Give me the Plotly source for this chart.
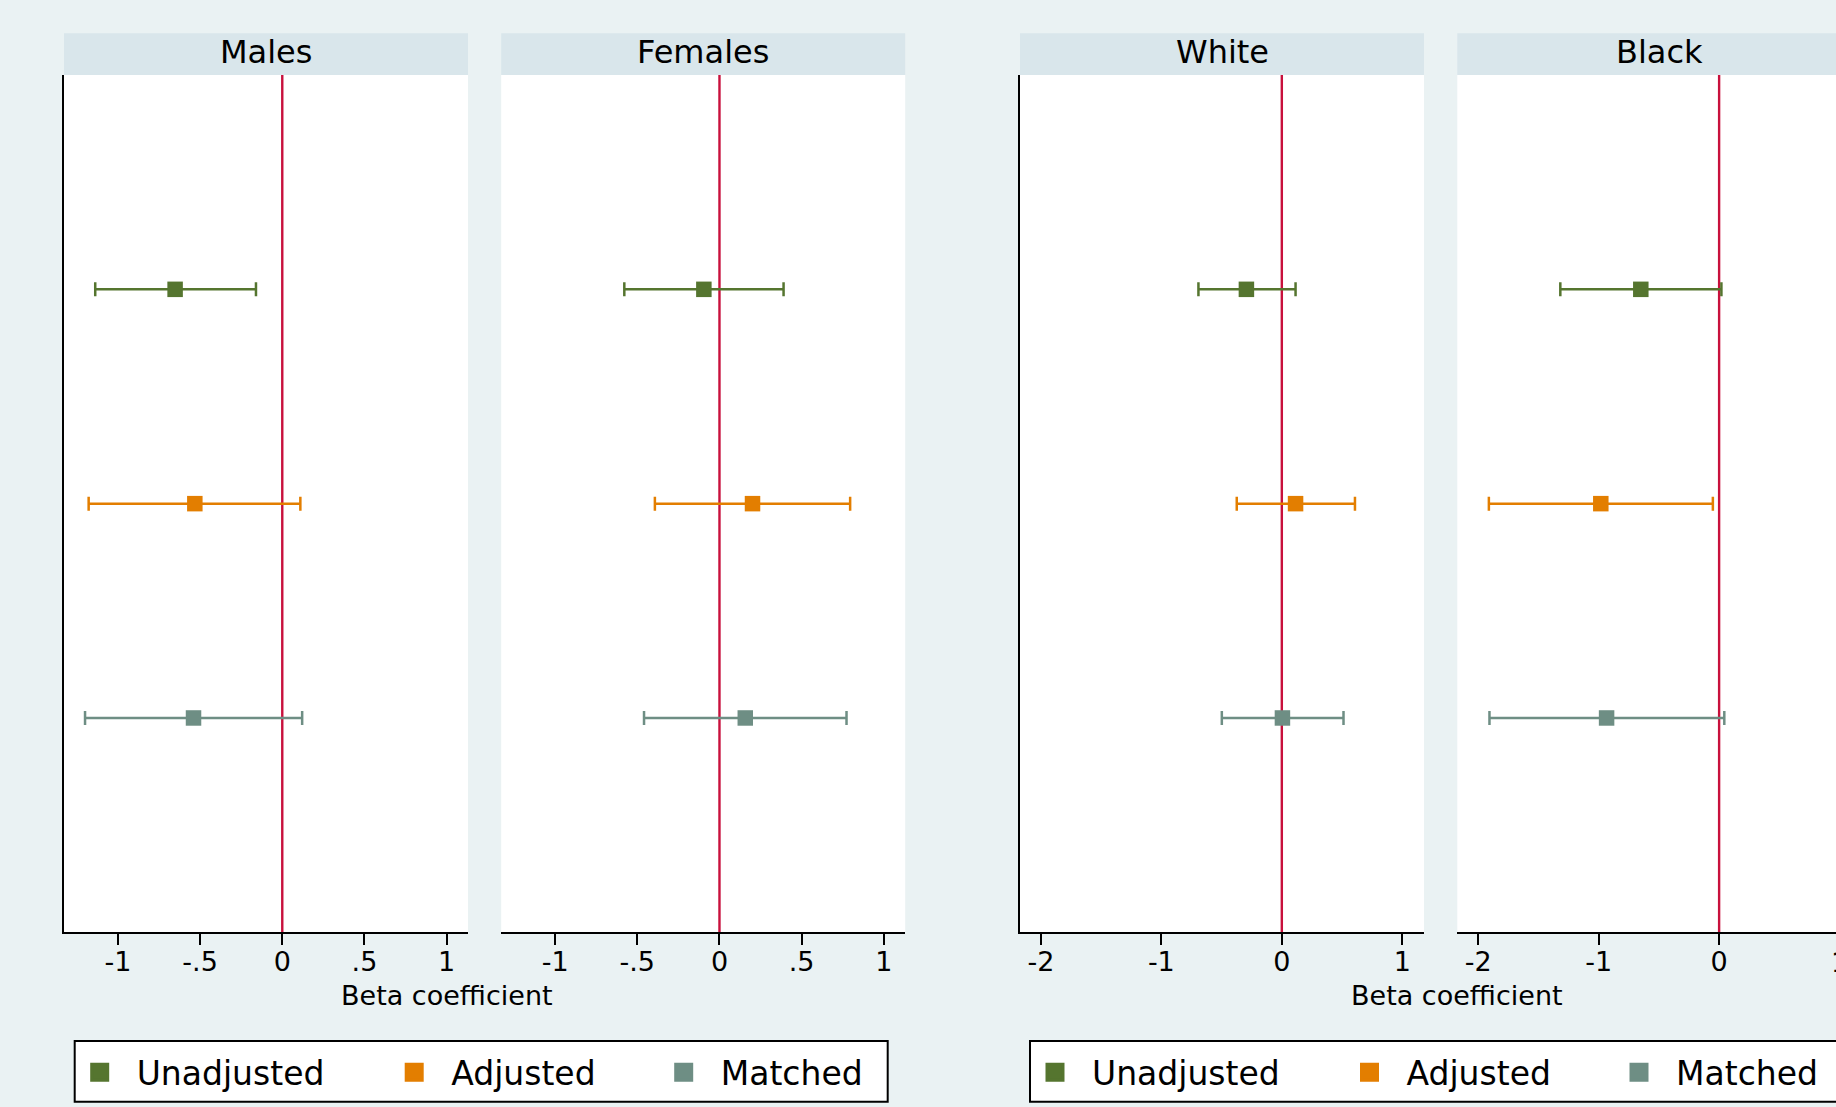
import plotly.graph_objects as go

# ---------------- data ----------------
categories = ["Unadjusted", "Adjusted", "Matched"]
panels = ["Males", "Females", "White", "Black"]

males_est = [-0.652, -0.532, -0.540]
males_lo = [-1.138, -1.178, -1.200]
males_hi = [-0.160, 0.110, 0.121]

females_est = [-0.095, 0.201, 0.157]
females_lo = [-0.579, -0.393, -0.459]
females_hi = [0.390, 0.795, 0.773]

white_est = [-0.294, 0.114, 0.005]
white_lo = [-0.692, -0.374, -0.498]
white_hi = [0.114, 0.607, 0.512]

black_est = [-0.650, -0.982, -0.934]
black_lo = [-1.318, -1.911, -1.906]
black_hi = [0.019, -0.052, 0.043]

sex_tickvals = [-1, -0.5, 0, 0.5, 1]
sex_ticktext = ["-1", "-.5", "0", ".5", "1"]
race_tickvals = [-2, -1, 0, 1]
race_ticktext = ["-2", "-1", "0", "1"]

axis_title = "Beta coefficient"

# ---------------- styling / layout ----------------
W, H = 1836, 1107
FONT = "DejaVu Sans"
colors = ["#55752F", "#E37E00", "#6E8E84"]
bg = "#EAF2F3"
strip_col = "#D9E6EB"
ref_col = "#C8103C"

panel_left = [64.0, 501.2, 1020.0, 1457.3]
panel_w = 404.0
strip_top, plot_top, plot_bottom = 33.3, 75.0, 932.3
sex_range = [-1.328, 1.130]
race_range = [-2.173, 1.180]

est = [males_est, females_est, white_est, black_est]
lo = [males_lo, females_lo, white_lo, black_lo]
hi = [males_hi, females_hi, white_hi, black_hi]
ranges = [sex_range, sex_range, race_range, race_range]
tickv = [sex_tickvals, sex_tickvals, race_tickvals, race_tickvals]
tickt = [sex_ticktext, sex_ticktext, race_ticktext, race_ticktext]

legend_widths = [235.5, 190.5, None]
legend_of_panel = {0: "legend", 2: "legend2"}

fig = go.Figure()

for p in range(4):
    ax = "" if p == 0 else str(p + 1)
    for c, cat in enumerate(categories):
        e = est[p][c]
        fig.add_trace(go.Scatter(
            x=[e],
            y=[cat],
            mode="markers",
            name=cat,
            marker=dict(symbol="square", size=15.5, color=colors[c], line=dict(width=0)),
            error_x=dict(
                type="data",
                symmetric=False,
                array=[hi[p][c] - e],
                arrayminus=[e - lo[p][c]],
                color=colors[c],
                thickness=2.5,
                width=7,
            ),
            xaxis="x" + ax,
            yaxis="y" + ax,
            showlegend=False,
            hoverinfo="x+name",
        ))
    # legend-only entries (legend keys are drawn slightly larger in the reference)
    if p in legend_of_panel:
        for c, cat in enumerate(categories):
            tr = dict(
                x=[None], y=[None], mode="markers", name=cat,
                marker=dict(symbol="square", size=16, color=colors[c],
                            line=dict(width=3, color=colors[c])),
                xaxis="x" + ax, yaxis="y" + ax,
                showlegend=True, legend=legend_of_panel[p],
                hoverinfo="skip",
            )
            if legend_widths[c] is not None:
                tr["legendwidth"] = legend_widths[c]
            fig.add_trace(go.Scatter(**tr))

layout = dict(
    width=W,
    height=H,
    margin=dict(l=0, r=0, t=0, b=0, pad=0, autoexpand=False),
    paper_bgcolor=bg,
    plot_bgcolor="white",
    font=dict(family=FONT, color="black"),
    showlegend=True,
)

shapes = []
annotations = []
ydom = [1 - plot_bottom / H, 1 - plot_top / H]

for p in range(4):
    ax = "" if p == 0 else str(p + 1)
    left = panel_left[p]
    right = left + panel_w
    r0, r1 = ranges[p]
    ppu = panel_w / (r1 - r0)
    if right > W:
        r1 = r0 + (W - left) / ppu
        right_d = 1.0
    else:
        right_d = right / W
    layout["xaxis" + ax] = dict(
        domain=[left / W, right_d],
        range=[r0, r1],
        anchor="y" + ax,
        showgrid=False,
        zeroline=False,
        showline=True,
        linecolor="black",
        linewidth=1.5,
        ticks="outside",
        ticklen=11,
        tickwidth=1.5,
        tickcolor="black",
        tickvals=tickv[p],
        ticktext=tickt[p],
        ticklabelstandoff=-6,
        tickfont=dict(family=FONT, size=27, color="black"),
        fixedrange=True,
    )
    layout["yaxis" + ax] = dict(
        domain=ydom,
        anchor="x" + ax,
        type="category",
        categoryorder="array",
        categoryarray=categories,
        range=[len(categories), -1],
        showgrid=False,
        zeroline=False,
        showticklabels=False,
        ticks="",
        showline=p in (0, 2),
        linecolor="black",
        linewidth=1.5,
        fixedrange=True,
    )
    # strip
    shapes.append(dict(type="rect", xref="paper", yref="paper",
                       x0=left / W, x1=(left + panel_w) / W,
                       y0=1 - plot_top / H, y1=1 - strip_top / H,
                       fillcolor=strip_col, line=dict(width=0), layer="below"))
    annotations.append(dict(text=panels[p], xref="paper", yref="paper",
                            x=(left + panel_w / 2) / W, y=1 - 52.5 / H,
                            xanchor="center", yanchor="middle", showarrow=False,
                            font=dict(family=FONT, size=32, color="black")))
    # reference line at zero
    shapes.append(dict(type="line", xref="x" + ax, yref="y" + ax + " domain",
                       x0=0, x1=0, y0=0, y1=1,
                       line=dict(color=ref_col, width=2.4), layer="below"))
    # partially visible tick label beyond right edge
    for tv, tt in zip(tickv[p], tickt[p]):
        px = left + (tv - r0) * ppu
        if px > W:
            annotations.append(dict(text=tt, xref="paper", yref="paper",
                                    x=px / W, y=1 - 962 / H, xanchor="center",
                                    yanchor="middle", showarrow=False,
                                    font=dict(family=FONT, size=27, color="black")))

# axis titles
for cx in (447.0, 1456.8):
    annotations.append(dict(text=axis_title, xref="paper", yref="paper",
                            x=cx / W, y=1 - 995.5 / H, xanchor="center",
                            yanchor="middle", showarrow=False,
                            font=dict(family=FONT, size=27, color="black")))

# legend boxes
for bx in (74.7, 1030.0):
    shapes.append(dict(type="rect", xref="paper", yref="paper",
                       x0=bx / W, x1=(bx + 813) / W,
                       y0=1 - 1101.7 / H, y1=1 - 1041 / H,
                       fillcolor="white", line=dict(color="black", width=2),
                       layer="below"))

leg_common = dict(orientation="h", xanchor="left", yanchor="top",
                  y=1 - 1044.4 / H, bgcolor="rgba(0,0,0,0)", borderwidth=0,
                  itemwidth=64, itemsizing="trace",
                  font=dict(family=FONT, size=33, color="black"),
                  traceorder="normal", itemclick=False, itemdoubleclick=False)
layout["legend"] = dict(x=62.7 / W, **leg_common)
layout["legend2"] = dict(x=1018.0 / W, **leg_common)

layout["shapes"] = shapes
layout["annotations"] = annotations
fig.update_layout(**layout)

fig.write_html(
    "out.html",
    config={"displayModeBar": False},
    post_script="document.body.style.margin='0';document.body.style.overflow='hidden';",
)
